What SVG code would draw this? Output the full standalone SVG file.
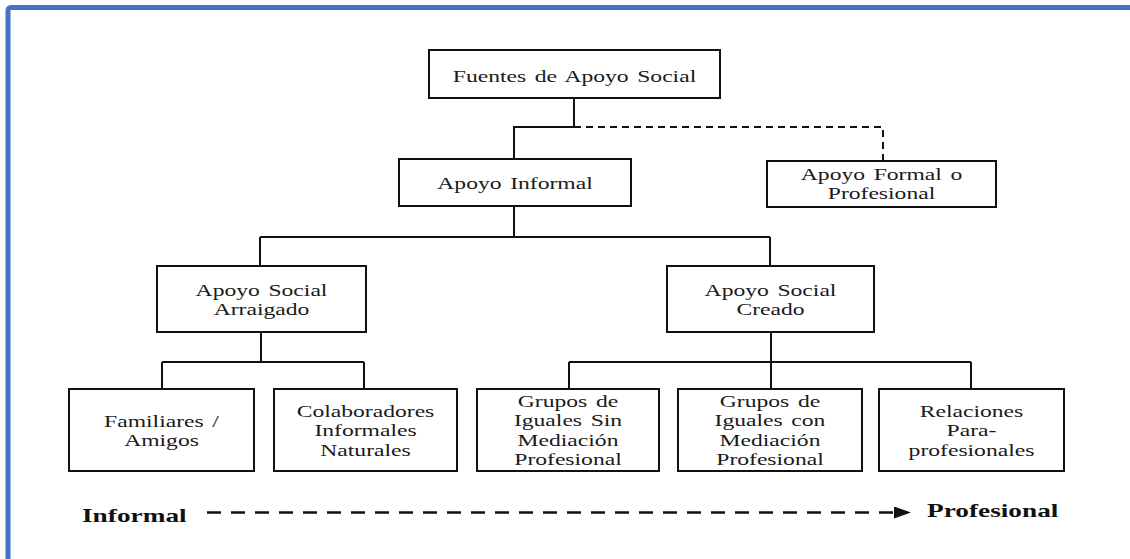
<svg xmlns="http://www.w3.org/2000/svg" width="1130" height="559" viewBox="0 0 1130 559">
<defs>
<style>
.frame{fill:none;stroke:#4472C4;stroke-width:5}
.box{fill:#fff;stroke:#111;stroke-width:2}
.t{font-family:'Liberation Serif','DejaVu Serif',serif;font-size:17.5px;fill:#1a1a1a;text-anchor:middle;word-spacing:2px}
.b{font-family:'Liberation Serif','DejaVu Serif',serif;font-size:19.5px;font-weight:bold;fill:#111}
.ln{fill:none;stroke:#111;stroke-width:2}
.dash{fill:none;stroke:#111;stroke-width:2;stroke-dasharray:7 5}
.dash2{fill:none;stroke:#111;stroke-width:2.5;stroke-dasharray:14 10}
</style>
<marker id="arr" markerWidth="17" markerHeight="12" refX="0" refY="6" orient="auto" markerUnits="userSpaceOnUse">
<path d="M0,0 L17,6 L0,12 Z" fill="#111"/>
</marker>
</defs>
<rect x="0" y="0" width="1130" height="559" fill="#fff"/>
<rect class="frame" x="8" y="7.5" width="1140" height="570" rx="3"/>

<g id="connectors">
<path class="ln" d="M574,98 V127 H514 V160"/>
<path class="dash" d="M574,127 H883 V161"/>
<path class="ln" d="M514,207 V237 M260,237 H770 M260,237 V266 M770,237 V266"/>
<path class="ln" d="M261,332 V362 M162,362 H364 M162,362 V389 M364,362 V389"/>
<path class="ln" d="M771,332 V362 M569,362 H971 M569,362 V389 M771,362 V389 M971,362 V389"/>
</g>

<g id="n-fuentes">
<rect class="box" x="429" y="50" width="291" height="48"/>
<text class="t" font-family="Liberation Serif, serif" transform="translate(574.5,82) scale(1.35,1)">Fuentes de Apoyo Social</text>
</g>
<g id="n-informal">
<rect class="box" x="399" y="159" width="232" height="47"/>
<text class="t" font-family="Liberation Serif, serif" transform="translate(515,189) scale(1.35,1)">Apoyo Informal</text>
</g>
<g id="n-formal">
<rect class="box" x="767" y="161" width="229" height="46"/>
<text class="t" font-family="Liberation Serif, serif" transform="translate(881.5,180) scale(1.35,1)"><tspan x="0">Apoyo Formal o</tspan><tspan x="0" dy="19">Profesional</tspan></text>
</g>
<g id="n-arraigado">
<rect class="box" x="157" y="266" width="209" height="66"/>
<text class="t" font-family="Liberation Serif, serif" transform="translate(261.5,296) scale(1.35,1)"><tspan x="0">Apoyo Social</tspan><tspan x="0" dy="19">Arraigado</tspan></text>
</g>
<g id="n-creado">
<rect class="box" x="667" y="266" width="207" height="66"/>
<text class="t" font-family="Liberation Serif, serif" transform="translate(770.5,296) scale(1.35,1)"><tspan x="0">Apoyo Social</tspan><tspan x="0" dy="19">Creado</tspan></text>
</g>
<g id="n-familiares">
<rect class="box" x="69" y="389" width="185" height="82"/>
<text class="t" font-family="Liberation Serif, serif" transform="translate(161.5,427) scale(1.35,1)"><tspan x="0">Familiares /</tspan><tspan x="0" dy="19">Amigos</tspan></text>
</g>
<g id="n-colaboradores">
<rect class="box" x="274" y="389" width="183" height="82"/>
<text class="t" font-family="Liberation Serif, serif" transform="translate(365.5,417) scale(1.35,1)"><tspan x="0">Colaboradores</tspan><tspan x="0" dy="19.5">Informales</tspan><tspan x="0" dy="19.5">Naturales</tspan></text>
</g>
<g id="n-grupos-sin">
<rect class="box" x="477" y="389" width="182" height="82"/>
<text class="t" font-family="Liberation Serif, serif" transform="translate(568,407) scale(1.35,1)"><tspan x="0">Grupos de</tspan><tspan x="0" dy="19.5">Iguales Sin</tspan><tspan x="0" dy="19.5">Mediación</tspan><tspan x="0" dy="19.5">Profesional</tspan></text>
</g>
<g id="n-grupos-con">
<rect class="box" x="678" y="389" width="184" height="82"/>
<text class="t" font-family="Liberation Serif, serif" transform="translate(770,407) scale(1.35,1)"><tspan x="0">Grupos de</tspan><tspan x="0" dy="19.5">Iguales con</tspan><tspan x="0" dy="19.5">Mediación</tspan><tspan x="0" dy="19.5">Profesional</tspan></text>
</g>
<g id="n-relaciones">
<rect class="box" x="879" y="389" width="185" height="82"/>
<text class="t" font-family="Liberation Serif, serif" transform="translate(971.5,417) scale(1.35,1)"><tspan x="0">Relaciones</tspan><tspan x="0" dy="19.5">Para-</tspan><tspan x="0" dy="19.5">profesionales</tspan></text>
</g>

<g id="scale">
<text class="b" font-family="Liberation Serif, serif" transform="translate(82,522) scale(1.4,1)">Informal</text>
<path class="dash2" d="M207,512.5 H894" marker-end="url(#arr)"/>
<text class="b" font-family="Liberation Serif, serif" transform="translate(927,517) scale(1.4,1)">Profesional</text>
</g>
</svg>
